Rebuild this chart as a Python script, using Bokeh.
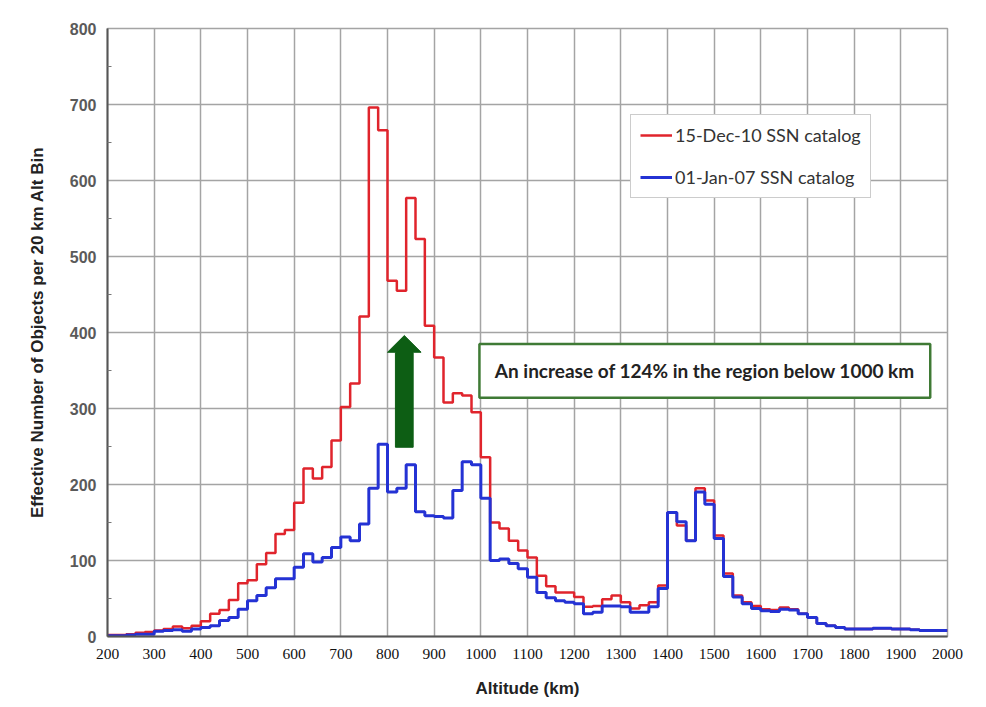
from bokeh.plotting import figure
from bokeh.models import Range1d, Legend, LegendItem, BoxAnnotation, Label, FixedTicker
from bokeh.embed import file_html
from bokeh.resources import INLINE

# ---- data ----
bin_start_km = list(range(200, 2000, 20))
bin_end_km = 2000

dec2010 = [2, 2, 3, 5, 6, 8, 10, 13, 11, 14,
           20, 30, 35, 48, 70, 74, 95, 110, 135, 140,
           176, 221, 208, 223, 258, 302, 333, 421, 696, 666,
           468, 455, 577, 523, 409, 367, 308, 320, 317, 295,
           236, 150, 142, 126, 113, 104, 80, 66, 58, 58,
           52, 39, 40, 49, 54, 45, 37, 41, 45, 67,
           163, 146, 126, 195, 179, 133, 83, 54, 45, 40,
           36, 35, 38, 36, 30, 25, 17, 14, 12, 10,
           10, 10, 11, 11, 10, 10, 9, 8, 8, 8]

jan2007 = [1, 1, 2, 3, 3, 7, 8, 9, 7, 10,
           12, 14, 21, 25, 36, 47, 54, 64, 76, 76,
           91, 109, 98, 104, 117, 131, 126, 148, 195, 253,
           190, 195, 226, 164, 159, 158, 156, 192, 230, 226,
           182, 100, 102, 96, 89, 78, 58, 51, 47, 45,
           43, 30, 32, 40, 40, 39, 32, 32, 39, 63,
           163, 151, 126, 190, 174, 129, 79, 52, 43, 37,
           34, 33, 36, 35, 30, 25, 17, 14, 12, 10,
           10, 10, 11, 11, 10, 10, 9, 8, 8, 8]

series_labels = ["15-Dec-10 SSN catalog", "01-Jan-07 SSN catalog"]
x_ticks = [200, 300, 400, 500, 600, 700, 800, 900, 1000, 1100, 1200,
           1300, 1400, 1500, 1600, 1700, 1800, 1900, 2000]
y_ticks = [0, 100, 200, 300, 400, 500, 600, 700, 800]
note_text = "An increase of 124% in the region below 1000 km"

# ---- annotation geometry (data units) ----
ARROW_X = 836
ARROW_SHAFT_HALF = 19
ARROW_HEAD_HALF = 36
ARROW_BOTTOM = 249
ARROW_HEAD_BASE = 374
ARROW_TIP = 396
BOX_L, BOX_R, BOX_B, BOX_T = 997, 1963, 314, 385

RED = "#e0242c"
BLUE = "#2432d4"
GRID = "#a4a4a4"
GREEN = "#0d5e14"

p = figure(width=986, height=707, output_backend="svg", toolbar_location=None,
           x_range=Range1d(200, 2000), y_range=Range1d(0, 800),
           min_border_left=107, min_border_right=39, min_border_top=28,
           min_border_bottom=71)
p.background_fill_color = "white"
p.border_fill_color = "white"
p.outline_line_color = GRID
p.outline_line_width = 1.5

xs = bin_start_km + [bin_end_km]
r_red = p.step(xs, dec2010 + [dec2010[-1]], mode="after", line_color=RED, line_width=2.5)
r_blue = p.step(xs, jan2007 + [jan2007[-1]], mode="after", line_color=BLUE, line_width=3)

# grid
p.xgrid.ticker = FixedTicker(ticks=x_ticks)
p.ygrid.ticker = FixedTicker(ticks=y_ticks)
for g in (p.xgrid, p.ygrid):
    g.grid_line_color = GRID
    g.grid_line_width = 1.5

# axes
p.xaxis.ticker = FixedTicker(ticks=x_ticks)
p.yaxis.ticker = FixedTicker(ticks=y_ticks, minor_ticks=[50, 150, 250, 350, 450, 550, 650, 750])
for ax in (p.xaxis, p.yaxis):
    ax.axis_line_color = "#555555"
    ax.axis_line_width = 2
    ax.major_tick_in = 0
    ax.major_tick_out = 0
p.xaxis.minor_tick_line_color = None
p.yaxis.minor_tick_in = 4
p.yaxis.minor_tick_out = 0
p.yaxis.minor_tick_line_color = "#777777"

p.xaxis.major_label_text_font = "Liberation Sans Narrow"
p.xaxis.major_label_text_font_size = "15.5px"
p.xaxis.major_label_text_color = "#111111"
p.xaxis.major_label_standoff = 12
p.yaxis.major_label_text_font = "Liberation Sans"
p.yaxis.major_label_text_font_style = "bold"
p.yaxis.major_label_text_font_size = "16px"
p.yaxis.major_label_text_color = "#5a5a5a"
p.yaxis.major_label_standoff = 11

p.xaxis.axis_label = "Altitude (km)"
p.yaxis.axis_label = "Effective Number of Objects per 20 km Alt Bin"
for ax in (p.xaxis, p.yaxis):
    ax.axis_label_text_font = "Liberation Sans"
    ax.axis_label_text_font_style = "bold"
    ax.axis_label_text_font_size = "17px"
    ax.axis_label_text_color = "#222222"
p.xaxis.axis_label_standoff = 17
p.yaxis.axis_label_standoff = 20

# legend
legend = Legend(items=[LegendItem(label=series_labels[0], renderers=[r_red]),
                       LegendItem(label=series_labels[1], renderers=[r_blue])],
                location=(523, 438))
legend.label_text_font = "Lato"
legend.label_text_font_size = "18px"
legend.label_text_color = "#333333"
legend.glyph_width = 32
legend.glyph_height = 20
legend.label_height = 20
legend.label_standoff = 3
legend.spacing = 20
legend.padding = 9
legend.margin = 0
legend.border_line_color = "#999999"
legend.border_line_width = 1.5
legend.background_fill_alpha = 1.0
p.add_layout(legend)

# green arrow
ax_ = [ARROW_X - ARROW_SHAFT_HALF, ARROW_X + ARROW_SHAFT_HALF, ARROW_X + ARROW_SHAFT_HALF,
       ARROW_X + ARROW_HEAD_HALF, ARROW_X, ARROW_X - ARROW_HEAD_HALF,
       ARROW_X - ARROW_SHAFT_HALF]
ay_ = [ARROW_BOTTOM, ARROW_BOTTOM, ARROW_HEAD_BASE, ARROW_HEAD_BASE, ARROW_TIP,
       ARROW_HEAD_BASE, ARROW_HEAD_BASE]
p.patch(ax_, ay_, fill_color=GREEN, line_color=GREEN, line_width=1)

# note box
p.add_layout(BoxAnnotation(left=BOX_L, right=BOX_R, bottom=BOX_B, top=BOX_T,
                           fill_color="white", fill_alpha=1.0,
                           line_color="#3f7a35", line_alpha=1.0, line_width=2.5,
                           level="overlay"))
p.add_layout(Label(x=(BOX_L + BOX_R) / 2, y=(BOX_B + BOX_T) / 2, text=note_text,
                   text_align="center", text_baseline="middle",
                   text_font="Lato", text_font_style="bold",
                   text_font_size="19px", text_color="#222222", level="overlay"))

open("out.html", "w").write(file_html(p, INLINE))
